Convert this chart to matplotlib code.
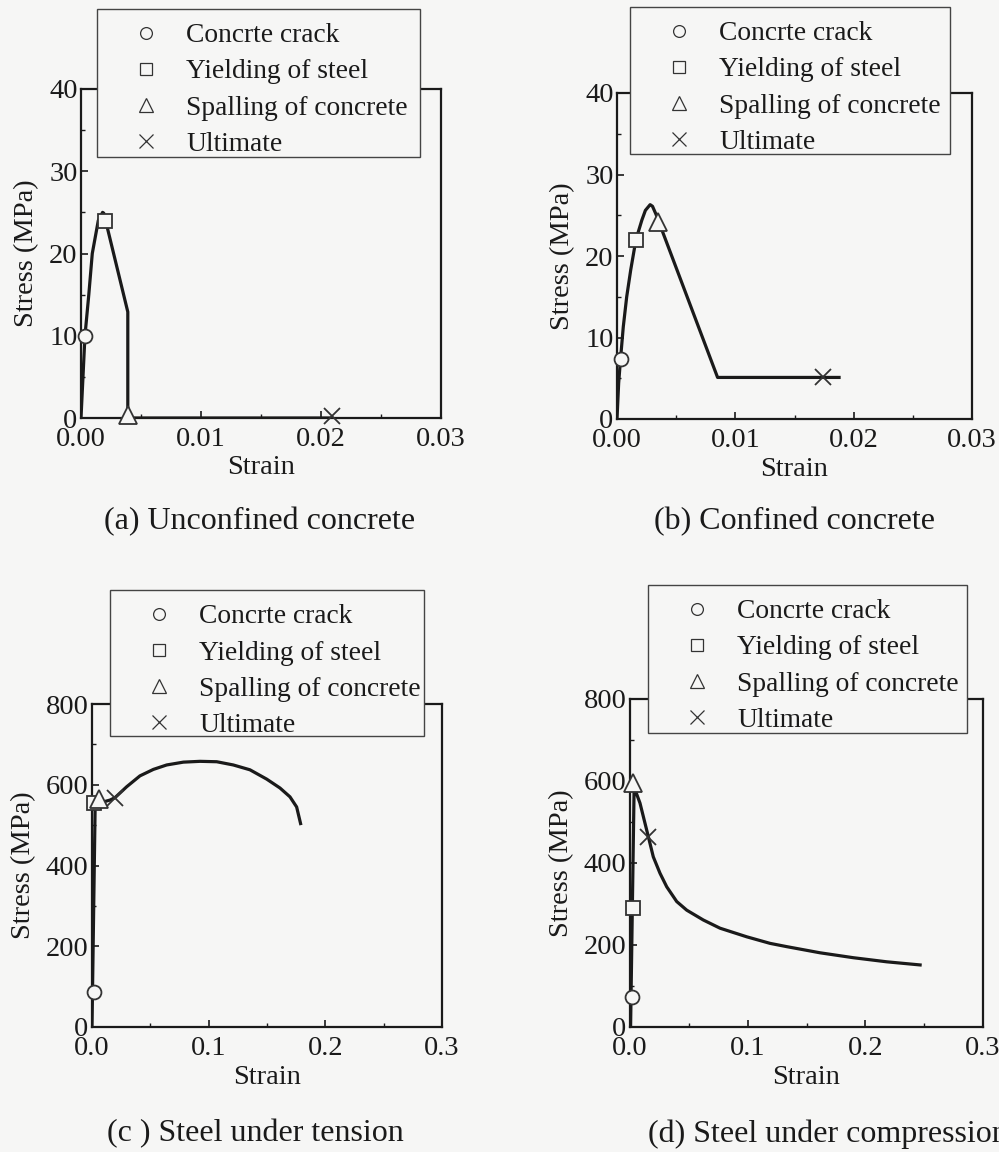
import matplotlib
matplotlib.use("Agg")
import matplotlib.pyplot as plt
from matplotlib.lines import Line2D
from matplotlib.patches import Rectangle
from matplotlib.ticker import MultipleLocator, FormatStrFormatter

plt.rcParams['font.family'] = ['Liberation Serif', 'DejaVu Serif']
plt.rcParams['mathtext.fontset'] = 'stix'

BG = '#f6f6f5'
INK = '#1a1a1a'

# ---------------- data ----------------
legend_labels = ['Concrte crack', 'Yielding of steel', 'Spalling of concrete', 'Ultimate']
marker_styles = ['o', 's', '^', 'x']

# (a) Unconfined concrete
a_strain = [0, 0.00033, 0.00065, 0.00094, 0.00144, 0.0018, 0.0019, 0.0039, 0.0039, 0.0209]
a_stress = [0, 10, 15, 20, 24, 25, 24.9, 12.9, 0, 0]
a_pts_strain = [0.00035, 0.0020, 0.0039, 0.0209]
a_pts_stress = [10, 23.9, 0.4, 0.2]

# (b) Confined concrete
b_strain = [0, 0.00014, 0.0003, 0.00053, 0.00082, 0.00116, 0.0016, 0.0021, 0.0024,
            0.0028, 0.0030, 0.0033, 0.0085, 0.0189]
b_stress = [0, 4.4, 7.4, 11.3, 15.0, 18.3, 22.0, 24.4, 25.6, 26.3, 26.1, 25.1, 5.1, 5.1]
b_pts_strain = [0.0003, 0.0016, 0.0035, 0.0174]
b_pts_stress = [7.4, 22.0, 24.2, 5.1]

# (c) Steel under tension
c_strain = [0, 0.0027, 0.0063, 0.0154, 0.0197, 0.0297, 0.0411, 0.0526, 0.064, 0.0783,
            0.0926, 0.1069, 0.1211, 0.1354, 0.1497, 0.1611, 0.1697, 0.1754, 0.1791]
c_stress = [0, 548, 555, 562, 568, 595, 622, 638, 649, 656,
            658, 657, 649, 637, 614, 592, 570, 545, 500]
c_pts_strain = [0.0017, 0.002, 0.0063, 0.0197]
c_pts_stress = [87, 556, 564, 568]

# (d) Steel under compression
d_strain = [0, 0.0005, 0.0035, 0.0085, 0.0156, 0.0198, 0.0255, 0.0312, 0.0397, 0.0482,
            0.0623, 0.0765, 0.0992, 0.119, 0.1332, 0.1615, 0.1898, 0.2182, 0.2479]
d_stress = [0, 0, 585, 546, 464, 415, 375, 342, 306, 285,
            261, 241, 220, 204, 196, 181, 169, 159, 151]
d_pts_strain = [0.0014, 0.0028, 0.0028, 0.0156]
d_pts_stress = [74, 291, 594, 464]

captions = ['(a) Unconfined concrete', '(b) Confined concrete',
            '(c ) Steel under tension', '(d) Steel under compression']

# ---------------- layout ----------------
W, H = 999, 1152
fig = plt.figure(figsize=(W / 100, H / 100), dpi=100, facecolor=BG)

def ax_rect(l, t, r, b):
    return [l / W, 1 - b / H, (r - l) / W, (b - t) / H]

panels = [
    dict(rect=ax_rect(81, 89, 441, 418), xlim=(0, 0.03), ylim=(0, 40), xmaj=0.01, xmin=0.005,
         ymaj=10, ymin=5, xfmt='%.2f', yfmt='%d', x=a_strain, y=a_stress,
         px=a_pts_strain, py=a_pts_stress, box=(97, 9, 420, 157), cap=(260, 522)),
    dict(rect=ax_rect(617, 93, 972, 419), xlim=(0, 0.03), ylim=(0, 40), xmaj=0.01, xmin=0.005,
         ymaj=10, ymin=5, xfmt='%.2f', yfmt='%d', x=b_strain, y=b_stress,
         px=b_pts_strain, py=b_pts_stress, box=(630, 7, 950, 154), cap=(794, 522)),
    dict(rect=ax_rect(92, 704, 442, 1027), xlim=(0, 0.3), ylim=(0, 800), xmaj=0.1, xmin=0.05,
         ymaj=200, ymin=100, xfmt='%.1f', yfmt='%d', x=c_strain, y=c_stress,
         px=c_pts_strain, py=c_pts_stress, box=(110, 590, 424, 736), cap=(255, 1134)),
    dict(rect=ax_rect(630, 699, 983, 1027), xlim=(0, 0.3), ylim=(0, 800), xmaj=0.1, xmin=0.05,
         ymaj=200, ymin=100, xfmt='%.1f', yfmt='%d', x=d_strain, y=d_stress,
         px=d_pts_strain, py=d_pts_stress, box=(648, 585, 967, 733), cap=(828, 1134)),
]

FS = 20.5
for i, p in enumerate(panels):
    ax = fig.add_axes(p['rect'])
    ax.set_facecolor(BG)
    ax.plot(p['x'], p['y'], color=INK, lw=2.3, solid_joinstyle='round',
            solid_capstyle='butt', zorder=3)
    for k, (mx, my) in enumerate(zip(p['px'], p['py'])):
        m = marker_styles[k]
        if m == 'x':
            ax.plot([mx], [my], ls='none', marker='x', ms=11, mew=1.3, color='#333333',
                    zorder=4, clip_on=False)
        else:
            ax.plot([mx], [my], ls='none', marker=m, ms=10 if m != '^' else 12.5,
                    mfc=BG, mec='#333333', mew=1.3, zorder=4, clip_on=False)
    ax.set_xlim(*p['xlim'])
    ax.set_ylim(*p['ylim'])
    ax.xaxis.set_major_locator(MultipleLocator(p['xmaj']))
    ax.xaxis.set_minor_locator(MultipleLocator(p['xmin']))
    ax.yaxis.set_major_locator(MultipleLocator(p['ymaj']))
    ax.yaxis.set_minor_locator(MultipleLocator(p['ymin']))
    ax.xaxis.set_major_formatter(FormatStrFormatter(p['xfmt']))
    ax.yaxis.set_major_formatter(FormatStrFormatter(p['yfmt']))
    ax.tick_params(which='both', direction='in', top=False, right=False,
                   labelsize=FS, colors=INK)
    ax.tick_params(axis='x', which='major', pad=6.5)
    ax.tick_params(axis='y', which='major', pad=2.5)
    ax.tick_params(which='major', length=5, width=1.2)
    ax.tick_params(which='minor', length=3, width=1.0)
    for s in ax.spines.values():
        s.set_linewidth(1.6)
        s.set_color(INK)
    ax.set_xlabel('Strain', fontsize=FS, color=INK, labelpad=2.5)
    ax.set_ylabel('Stress (MPa)', fontsize=FS, color=INK, labelpad=7)

    # legend box drawn as a figure patch above the axes
    bx0, by0, bx1, by1 = p['box']
    fig.patches.append(Rectangle((bx0 / W, 1 - by1 / H), (bx1 - bx0) / W, (by1 - by0) / H,
                                 transform=fig.transFigure, facecolor=BG,
                                 edgecolor='#444444', linewidth=1.0, zorder=4))

    handles = []
    for m in marker_styles:
        if m == 'x':
            handles.append(Line2D([], [], ls='none', marker='x', ms=9.5, mew=0.9, color='#333333'))
        else:
            handles.append(Line2D([], [], ls='none', marker=m, ms=8.5 if m != '^' else 9.5,
                                  mfc=BG, mec='#333333', mew=0.9))
    leg = fig.legend(handles, legend_labels, loc='upper left',
                     bbox_to_anchor=((bx0 + 11.5) / W, 1 - (by0 + 14) / H), borderaxespad=0,
                     fontsize=19.8, frameon=False, borderpad=0,
                     handlelength=2.7, handletextpad=0.12, labelspacing=0.4)
    leg.set_zorder(6)
    for t in leg.get_texts():
        t.set_color(INK)

    cx, cy = p['cap']
    fig.text(cx / W, 1 - cy / H, captions[i], fontsize=23, color=INK,
             ha='center', va='center')

fig.savefig('out.png', dpi=100, facecolor=BG)
